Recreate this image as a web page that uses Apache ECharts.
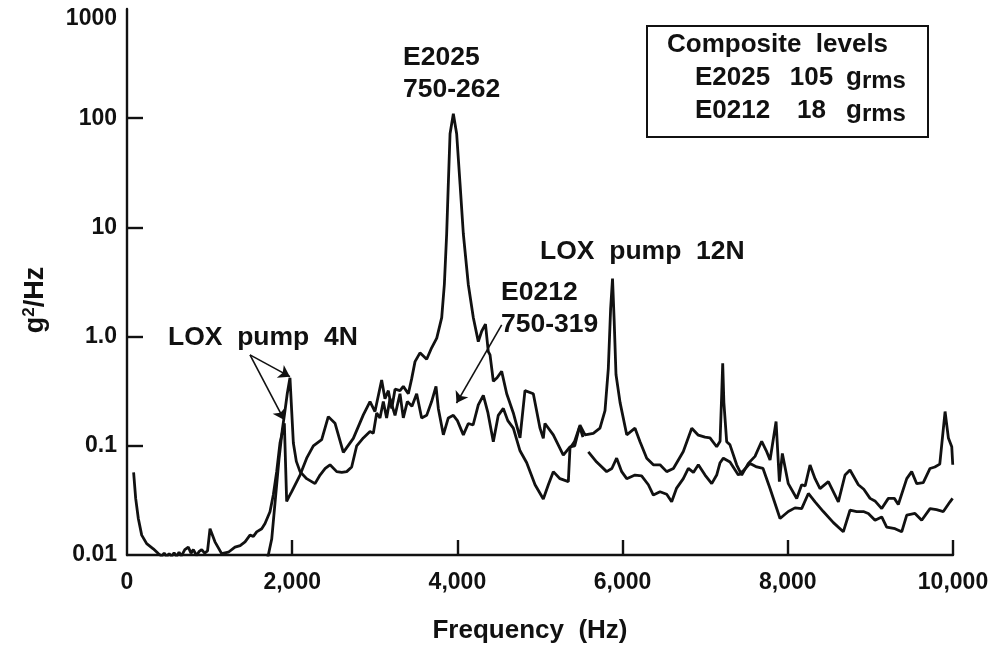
<!DOCTYPE html>
<html>
<head>
<meta charset="utf-8">
<script src="https://cdn.jsdelivr.net/npm/echarts@6/dist/echarts.min.js"></script>
<style>html,body{margin:0;padding:0;background:#fff}#c{width:989px;height:646px}</style>
</head>
<body>
<div id="c"></div>
<script>
// ---- data ----
const freqE2025 = [80,105,137,178,238,318,379,420,450,480,510,540,570,600,630,660,700,742,775,803,843,875,904,940,975,1005,1065,1146,1227,1307,1370,1429,1489,1530,1570,1631,1671,1731,1771,1812,1852,1905,1933,1960,1994,2095,2175,2256,2357,2437,2518,2619,2740,2861,2942,3002,3083,3123,3164,3205,3245,3305,3345,3406,3446,3487,3547,3628,3688,3750,3810,3842,3870,3890,3911,3951,3991,4032,4072,4132,4193,4253,4294,4340,4374,4395,4435,4480,4536,4597,4677,4758,4818,4919,5000,5040,5060,5161,5282,5363,5420,5484,5545,5645,5726,5787,5827,5855,5878,5898,5920,5969,6050,6150,6211,6292,6372,6453,6534,6615,6735,6837,6917,6998,7058,7139,7180,7200,7212,7226,7260,7300,7381,7442,7522,7603,7684,7740,7785,7858,7898,7934,8006,8108,8168,8210,8269,8330,8390,8491,8612,8693,8753,8854,8920,8996,9060,9137,9217,9290,9338,9440,9500,9561,9640,9722,9780,9840,9904,9944,9985,9997];
const valE2025 = [0.057,0.033,0.0216,0.0152,0.0127,0.0114,0.0103,0.0097,0.0104,0.0096,0.0103,0.0097,0.0105,0.0097,0.0106,0.0098,0.0112,0.0118,0.0104,0.0112,0.0099,0.0108,0.0112,0.0104,0.0109,0.0174,0.0132,0.0103,0.0106,0.0118,0.0122,0.0132,0.0152,0.0148,0.0163,0.0174,0.0194,0.0249,0.0354,0.058,0.106,0.161,0.031,0.034,0.038,0.054,0.077,0.10,0.114,0.185,0.161,0.087,0.117,0.192,0.254,0.206,0.40,0.27,0.32,0.22,0.33,0.32,0.35,0.30,0.41,0.59,0.71,0.62,0.79,0.97,1.49,3.0,8.7,25,72,110,72,25,8.7,3.0,1.49,0.9,1.12,1.3,0.73,0.68,0.39,0.42,0.48,0.30,0.2,0.118,0.32,0.30,0.145,0.117,0.16,0.126,0.082,0.098,0.1,0.155,0.126,0.13,0.145,0.21,0.51,1.8,3.4,1.4,0.45,0.25,0.126,0.145,0.109,0.077,0.067,0.067,0.058,0.062,0.0887,0.145,0.125,0.12,0.118,0.098,0.11,0.3,0.57,0.25,0.109,0.102,0.067,0.054,0.069,0.08,0.11,0.09,0.074,0.167,0.047,0.085,0.045,0.0329,0.044,0.043,0.0667,0.05,0.0406,0.047,0.0307,0.054,0.06,0.044,0.04,0.033,0.031,0.0266,0.033,0.033,0.029,0.05,0.058,0.045,0.046,0.062,0.064,0.068,0.206,0.118,0.098,0.067];

const freqE0212 = [1691,1752,1800,1840,1880,1905,1940,1973,1995,2014,2050,2095,2175,2276,2337,2400,2458,2539,2600,2660,2720,2781,2861,2942,2982,3023,3063,3103,3143,3184,3245,3305,3345,3394,3450,3507,3567,3628,3688,3741,3769,3830,3890,3951,4000,4072,4132,4190,4253,4314,4370,4435,4495,4556,4610,4677,4758,4839,4940,5040,5101,5161,5242,5343,5363,5420,5480,5520,5550,5585,5686,5807,5870,5928,5989,6050,6150,6230,6312,6372,6453,6534,6594,6654,6735,6796,6857,6917,6998,7079,7139,7180,7220,7300,7401,7470,7543,7624,7700,7785,7906,8006,8087,8168,8249,8330,8430,8552,8672,8753,8834,8915,8975,9056,9137,9197,9298,9379,9440,9540,9621,9722,9800,9883,9964,9995];
const valE0212 = [0.0085,0.014,0.035,0.075,0.14,0.19,0.3,0.42,0.2,0.106,0.072,0.058,0.050,0.045,0.054,0.062,0.067,0.058,0.057,0.058,0.064,0.10,0.118,0.135,0.13,0.2,0.18,0.254,0.18,0.27,0.19,0.30,0.18,0.254,0.23,0.30,0.18,0.19,0.254,0.35,0.22,0.126,0.18,0.19,0.17,0.126,0.16,0.155,0.237,0.29,0.2,0.109,0.19,0.22,0.17,0.145,0.09,0.07,0.044,0.0326,0.044,0.058,0.05,0.047,0.095,0.11,0.15,0.12,null,0.088,0.071,0.058,0.062,0.077,0.058,0.05,0.054,0.053,0.044,0.0354,0.038,0.036,0.0307,0.041,0.05,0.062,0.057,0.067,0.054,0.045,0.054,0.07,0.077,0.071,0.054,0.06,0.069,0.064,0.062,0.0406,0.0216,0.025,0.027,0.0266,0.0366,0.0307,0.025,0.0198,0.0163,0.0257,0.025,0.025,0.024,0.0208,0.0223,0.018,0.0174,0.0163,0.0232,0.024,0.0208,0.0266,0.026,0.025,0.0307,0.033];

const xTickValues = [2000,4000,6000,8000,10000];
const xTickLabels = ['0','2,000','4,000','6,000','8,000','10,000'];
const yTickValues = [0.1,1,10,100];
const yTickLabels = ['0.01','0.1','1.0','10','100','1000'];

const noteTexts = ['E2025\n750-262','E0212\n750-319','LOX  pump  12N','LOX  pump  4N'];
const noteAt = [[3342,254],[4528,1.81],[5000,5.96],[496,0.97]];
const arrowFrom = [[1489,0.68],[1489,0.68],[4536,1.28]];
const arrowTo = [[1904,0.172],[1973,0.43],[3989,0.246]];

const legendTitle = 'Composite  levels';
const legendNames = ['E2025','E0212'];
const legendValues = ['105','18'];

// ---- chart ----
const FONT = 'Liberation Sans';
const INK = '#111';
const pairs = (xs, ys) => xs.map((x, i) => [x, ys[i] === null ? '-' : ys[i]]);
const chart = echarts.init(document.getElementById('c'), null, {renderer: 'canvas'});

const legendText = '{h|' + legendTitle + '}\n' +
  legendNames.map((n, i) => '{n|' + n + '}{v|' + legendValues[i] + '}{g|g}{s|rms}').join('\n');

const lineStyle = {color: INK, width: 2.8};
const bold = (size, extra) => Object.assign({fontSize: size, fontWeight: 'bold', color: INK, fontFamily: FONT}, extra || {});

chart.setOption({
  animation: false,
  backgroundColor: '#fff',
  color: [INK, INK],
  textStyle: {fontFamily: FONT},
  title: {
    left: 647, top: 22,
    padding: [6, 22, 11, 20],
    borderColor: INK, borderWidth: 2,
    text: legendText,
    textStyle: {
      fontFamily: FONT,
      rich: {
        h: bold(26, {lineHeight: 33}),
        n: bold(26, {lineHeight: 33, width: 98, padding: [0, 0, 0, 28]}),
        v: bold(26, {lineHeight: 33, width: 37, align: 'right'}),
        g: bold(26, {lineHeight: 33, padding: [0, 0, 0, 16]}),
        s: bold(24, {lineHeight: 33, padding: [7, 0, 0, 0]})
      }
    }
  },
  grid: {left: 127, right: 36, top: 9, bottom: 91, containLabel: false, outerBoundsMode: 'none'},
  xAxis: {
    type: 'value', min: 0, max: 10000,
    splitLine: {show: false},
    axisLine: {lineStyle: {color: INK, width: 2.4}},
    axisTick: {inside: true, length: 15, lineStyle: {color: INK, width: 2.4}, customValues: xTickValues},
    axisLabel: Object.assign(bold(23), {
      customValues: [0].concat(xTickValues),
      formatter: v => xTickLabels[Math.round(v / 2000)],
      margin: 16
    }),
    name: 'Frequency  (Hz)', nameLocation: 'middle', nameGap: 63,
    nameTextStyle: bold(26, {padding: [0, 20, 0, 0]})
  },
  yAxis: {
    type: 'log', logBase: 10, min: 0.01, max: 1000,
    splitLine: {show: false},
    axisLine: {lineStyle: {color: INK, width: 2.4}},
    axisTick: {inside: true, length: 16, lineStyle: {color: INK, width: 2.4}, customValues: yTickValues},
    axisLabel: Object.assign(bold(23), {
      formatter: v => {
        const k = Math.round(Math.log10(v)) + 2;
        return k === 5 ? '{t|' + yTickLabels[k] + '}' : yTickLabels[k];
      },
      rich: {t: bold(23, {padding: [20, 0, 0, 0]})},
      margin: 10
    }),
    name: '{a|g}{b|2}{c|/Hz}', nameLocation: 'middle', nameGap: 76, nameRotate: 90,
    nameMoveOverlap: false,
    nameTextStyle: {
      rich: {
        a: bold(27, {lineHeight: 30}),
        b: bold(17, {verticalAlign: 'top', lineHeight: 30}),
        c: bold(27, {lineHeight: 30, padding: [0, 36, 0, 0]})
      }
    }
  },
  series: [
    {
      name: 'E2025', type: 'line', showSymbol: false, symbol: 'none', clip: true,
      itemStyle: {color: INK},
      lineStyle: lineStyle, data: pairs(freqE2025, valE2025),
      markPoint: {
        symbol: 'circle', symbolSize: 1, silent: true,
        itemStyle: {color: 'rgba(0,0,0,0)'},
        label: Object.assign(bold(26.5, {lineHeight: 32}), {
          show: true, position: 'inside', align: 'left', verticalAlign: 'middle',
          formatter: p => p.name
        }),
        data: noteTexts.map((t, i) => ({name: t, coord: noteAt[i]}))
      },
      markLine: {
        silent: true, symbol: ['none', 'arrow'], symbolSize: 11,
        itemStyle: {color: INK},
        lineStyle: {color: INK, width: 1.6, type: 'solid'},
        label: {show: false},
        emphasis: {disabled: true},
        data: arrowFrom.map((a, i) => [{coord: a}, {coord: arrowTo[i]}])
      }
    },
    {
      name: 'E0212', type: 'line', showSymbol: false, symbol: 'none', clip: true, connectNulls: false,
      itemStyle: {color: INK},
      lineStyle: lineStyle, data: pairs(freqE0212, valE0212)
    }
  ]
});
</script>
</body>
</html>
